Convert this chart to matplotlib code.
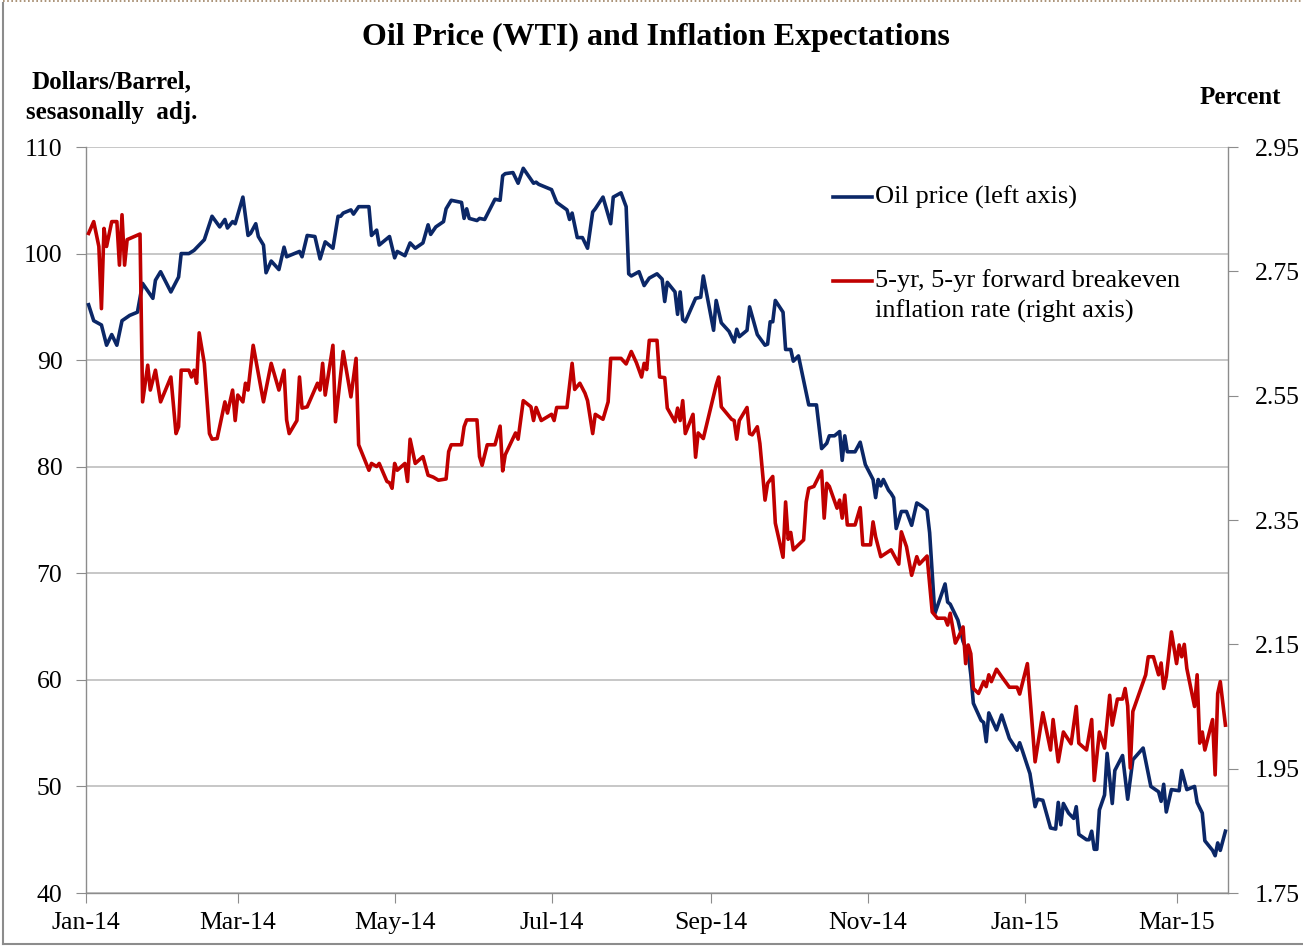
import numpy as np
import pandas as pd
import matplotlib
matplotlib.use("Agg")
import matplotlib.pyplot as plt
import matplotlib.dates as mdates
from matplotlib.lines import Line2D

# ---------------- data ----------------
start_date = "2014-01-01"

# WTI oil price, dollars/barrel; day = days since 2014-01-01
oil_day = [1, 3, 6, 8, 10, 12, 14, 17, 20, 22, 26, 27, 29, 33, 36, 37, 40, 42, 46, 49,
           52, 54, 55, 57, 58, 61, 63, 64, 66, 67, 69, 70, 72, 75, 77, 78, 83, 84, 86, 89,
           91, 93, 96, 98, 99, 100, 103, 104, 106, 110, 111, 113, 114, 118, 120, 121, 124, 126, 128, 131,
           133, 134, 136, 139, 140, 142, 146, 147, 148, 149, 152, 153, 155, 159, 161, 162, 163, 166, 168, 170,
           174, 175, 176, 178, 181, 183, 187, 188, 189, 191, 193, 195, 197, 198, 201, 204, 205, 208, 210, 211,
           212, 215, 217, 219, 222, 224, 225, 226, 229, 230, 231, 232, 233, 237, 239, 240, 244, 245, 247, 250,
           252, 253, 254, 257, 258, 261, 264, 265, 266, 267, 268, 271, 272, 274, 275, 277, 281, 284, 286, 288,
           289, 291, 293, 294, 295, 296, 299, 301, 303, 306, 307, 308, 309, 310, 312, 313, 314, 315, 317, 319,
           321, 323, 325, 327, 328, 330, 334, 335, 336, 339, 341, 343, 344, 345, 348, 349, 350, 351, 354, 356,
           359, 362, 363, 364, 367, 369, 370, 372, 375, 377, 378, 379, 380, 382, 384, 385, 386, 389, 390, 391,
           392, 393, 394, 396, 397, 399, 400, 403, 405, 407, 411, 414, 417, 418, 419, 420, 422, 425, 426, 428,
           431, 432, 434, 435, 438, 439, 440, 441, 443]
oil_price = [95.2, 93.7, 93.3, 91.4, 92.4, 91.4, 93.7, 94.2, 94.5, 97.2, 95.8, 97.5, 98.3, 96.4, 97.8, 100.0, 100.0, 100.3, 101.3, 103.5,
             102.5, 103.2, 102.4, 103.0, 102.8, 105.3, 101.7, 101.9, 102.8, 101.6, 100.8, 98.2, 99.3, 98.5, 100.6, 99.7, 100.2, 99.7, 101.7, 101.6,
             99.5, 101.1, 100.5, 103.5, 103.5, 103.8, 104.1, 103.7, 104.4, 104.4, 101.7, 102.2, 100.8, 101.6, 99.6, 100.2, 99.8, 101.0, 100.5, 101.0,
             102.7, 101.8, 102.5, 103.0, 104.2, 105.0, 104.8, 103.3, 104.2, 103.3, 103.1, 103.3, 103.2, 105.1, 105.0, 107.3, 107.5, 107.6, 106.6, 108.0,
             106.6, 106.7, 106.5, 106.3, 106.0, 104.8, 104.1, 103.2, 103.8, 101.5, 101.5, 100.5, 103.9, 104.2, 105.3, 102.8, 105.3, 105.7, 104.4, 98.1,
             97.9, 98.3, 97.0, 97.7, 98.1, 97.6, 95.5, 97.3, 96.4, 94.3, 96.4, 93.8, 93.6, 95.8, 95.9, 97.9, 92.8, 95.6, 93.5, 92.7,
             91.7, 92.9, 92.2, 92.8, 95.0, 92.4, 91.4, 91.5, 93.6, 93.6, 95.6, 94.5, 91.0, 91.0, 89.9, 90.4, 85.8, 85.8, 81.7, 82.2,
             82.9, 82.9, 83.3, 80.6, 82.9, 81.4, 81.4, 82.3, 80.2, 78.8, 77.1, 78.8, 78.2, 78.8, 77.8, 77.5, 77.1, 74.2, 75.8, 75.8,
             74.5, 76.6, 76.3, 75.9, 73.8, 66.2, 69.0, 67.3, 67.1, 65.6, 63.6, 62.5, 60.5, 57.8, 56.2, 56.0, 54.2, 56.9, 55.3, 56.7,
             54.5, 53.4, 54.1, 53.4, 51.2, 48.1, 48.8, 48.7, 46.1, 46.0, 48.5, 46.4, 48.4, 47.5, 47.0, 48.1, 45.5, 45.0, 45.0, 45.8,
             44.1, 44.1, 47.8, 49.2, 53.1, 48.4, 51.5, 52.9, 48.8, 52.5, 53.6, 50.0, 49.5, 48.6, 50.2, 47.6, 49.7, 49.6, 51.5, 49.7,
             50.0, 48.5, 47.5, 44.9, 44.0, 43.5, 44.7, 44.0, 45.8]

# 5-yr, 5-yr forward breakeven inflation rate, percent
bei_day = [1, 3, 5, 6, 7, 8, 10, 12, 13, 14, 15, 16, 21, 22, 24, 25, 27, 29, 33, 35,
           36, 37, 40, 41, 42, 43, 44, 46, 48, 49, 51, 54, 55, 57, 58, 59, 61, 62, 63, 65,
           69, 72, 75, 77, 78, 79, 82, 83, 84, 86, 90, 91, 92, 93, 96, 97, 100, 103, 105, 106,
           110, 111, 113, 114, 117, 118, 119, 120, 121, 124, 125, 126, 128, 131, 133, 135, 137, 140, 141, 142,
           146, 147, 148, 152, 153, 154, 156, 159, 161, 162, 163, 167, 168, 170, 173, 174, 175, 177, 181, 182,
           183, 187, 189, 190, 192, 194, 195, 197, 198, 201, 203, 204, 208, 210, 212, 214, 216, 217, 218, 219,
           222, 223, 225, 226, 229, 230, 231, 232, 233, 236, 237, 238, 240, 243, 245, 246, 247, 251, 252, 253,
           254, 257, 258, 259, 261, 262, 264, 265, 267, 268, 271, 272, 273, 274, 275, 277, 279, 280, 281, 283,
           286, 287, 288, 289, 292, 293, 294, 295, 296, 299, 301, 302, 305, 306, 307, 309, 313, 316, 317, 319,
           321, 323, 324, 327, 329, 331, 334, 335, 336, 338, 339, 341, 342, 343, 344, 345, 347, 349, 350, 351,
           352, 354, 356, 359, 362, 363, 366, 369, 372, 375, 376, 378, 380, 383, 385, 386, 389, 391, 392, 394,
           396, 398, 399, 401, 403, 404, 405, 406, 407, 412, 413, 415, 417, 418, 419, 420, 422, 424, 425, 426,
           427, 428, 431, 432, 433, 434, 435, 438, 439, 440, 441, 443]
bei_rate = [2.811, 2.830, 2.790, 2.690, 2.819, 2.790, 2.830, 2.830, 2.760, 2.841, 2.760, 2.801, 2.810, 2.540, 2.599, 2.559, 2.591, 2.540, 2.580, 2.489,
            2.500, 2.591, 2.591, 2.580, 2.591, 2.570, 2.651, 2.602, 2.489, 2.480, 2.481, 2.540, 2.522, 2.559, 2.510, 2.551, 2.540, 2.570, 2.559, 2.631,
            2.540, 2.602, 2.559, 2.591, 2.511, 2.489, 2.510, 2.580, 2.530, 2.532, 2.570, 2.559, 2.602, 2.551, 2.631, 2.508, 2.621, 2.548, 2.610, 2.471,
            2.430, 2.441, 2.436, 2.441, 2.412, 2.410, 2.401, 2.441, 2.430, 2.441, 2.412, 2.480, 2.441, 2.452, 2.422, 2.419, 2.414, 2.416, 2.460, 2.471,
            2.471, 2.500, 2.511, 2.511, 2.452, 2.438, 2.471, 2.471, 2.501, 2.429, 2.455, 2.490, 2.480, 2.542, 2.532, 2.510, 2.531, 2.510, 2.520, 2.510,
            2.531, 2.531, 2.602, 2.560, 2.570, 2.554, 2.542, 2.489, 2.520, 2.512, 2.540, 2.610, 2.610, 2.601, 2.621, 2.603, 2.580, 2.602, 2.592, 2.639,
            2.639, 2.580, 2.579, 2.530, 2.508, 2.530, 2.510, 2.542, 2.489, 2.520, 2.451, 2.490, 2.481, 2.533, 2.567, 2.580, 2.532, 2.512, 2.510, 2.480,
            2.510, 2.531, 2.489, 2.487, 2.500, 2.473, 2.382, 2.409, 2.420, 2.345, 2.290, 2.379, 2.319, 2.330, 2.302, 2.310, 2.318, 2.379, 2.401, 2.404,
            2.429, 2.353, 2.409, 2.404, 2.369, 2.382, 2.353, 2.390, 2.342, 2.342, 2.370, 2.310, 2.310, 2.347, 2.323, 2.291, 2.302, 2.279, 2.331, 2.307,
            2.261, 2.291, 2.279, 2.292, 2.202, 2.192, 2.192, 2.181, 2.200, 2.152, 2.160, 2.178, 2.119, 2.149, 2.135, 2.079, 2.071, 2.090, 2.082, 2.101,
            2.090, 2.110, 2.098, 2.081, 2.081, 2.070, 2.119, 1.961, 2.040, 1.980, 2.029, 1.961, 2.009, 1.990, 2.050, 1.991, 1.980, 2.029, 1.931, 2.009,
            1.983, 2.068, 2.020, 2.062, 2.062, 2.079, 2.051, 1.951, 2.042, 2.101, 2.130, 2.130, 2.101, 2.120, 2.079, 2.098, 2.170, 2.119, 2.149, 2.130,
            2.150, 2.111, 2.050, 2.101, 1.991, 2.009, 1.980, 2.029, 1.940, 2.071, 2.090, 2.020]

x_tick_labels = ["Jan-14", "Mar-14", "May-14", "Jul-14", "Sep-14", "Nov-14", "Jan-15", "Mar-15"]
x_tick_dates = ["2014-01-01", "2014-03-01", "2014-05-01", "2014-07-01",
                "2014-09-01", "2014-11-01", "2015-01-01", "2015-03-01"]
left_ticks = [40, 50, 60, 70, 80, 90, 100, 110]
right_ticks = [1.75, 1.95, 2.15, 2.35, 2.55, 2.75, 2.95]

title = "Oil Price (WTI) and Inflation Expectations"
left_label = "Dollars/Barrel,\nsesasonally  adj."
right_label = "Percent"
oil_legend = "Oil price (left axis)"
bei_legend = "5-yr, 5-yr forward breakeven\ninflation rate (right axis)"

# ---------------- styling ----------------
plt.rcParams["font.family"] = ["Liberation Serif", "DejaVu Serif"]
BLUE = "#0B2767"
RED = "#C00000"
GRID = "#BDBDBD"
AXC = "#8C8C8C"
LW = 2.6

W, H = 1303, 946
fig = plt.figure(figsize=(W / 100, H / 100), dpi=100)
L, R, T, B = 86, 1228, 147, 893
ax = fig.add_axes([L / W, 1 - B / H, (R - L) / W, (B - T) / H])
ax2 = ax.twinx()

t0 = pd.Timestamp(start_date)
oil_dates = t0 + pd.to_timedelta(oil_day, unit="D")
bei_dates = t0 + pd.to_timedelta(bei_day, unit="D")

ax.plot(oil_dates, oil_price, color=BLUE, lw=LW, solid_joinstyle="round", zorder=3)
ax2.plot(bei_dates, bei_rate, color=RED, lw=LW, solid_joinstyle="round", zorder=3)

ax.set_xlim(pd.Timestamp("2014-01-01"), pd.Timestamp("2015-03-21"))
ax.set_ylim(40, 110)
ax2.set_ylim(1.75, 2.95)
ax.set_yticks(left_ticks)
ax.set_yticklabels([str(v) for v in left_ticks])
ax2.set_yticks(right_ticks)
ax2.set_yticklabels([f"{v:.2f}" for v in right_ticks])
ax.set_xticks(pd.to_datetime(x_tick_dates))
ax.set_xticklabels(x_tick_labels)

ax.yaxis.grid(True, color=GRID, lw=1.2, zorder=0)
ax.set_axisbelow(True)
ax2.set_zorder(ax.get_zorder() + 1)
ax2.patch.set_visible(False)

for a in (ax, ax2):
    a.spines["top"].set_visible(False)
    for s in ("left", "right", "bottom"):
        a.spines[s].set_color(AXC)
        a.spines[s].set_linewidth(1.0)
ax.spines["right"].set_visible(False)
ax2.spines["left"].set_visible(False)
ax2.spines["bottom"].set_visible(False)

ax.tick_params(axis="y", direction="out", length=7, color=AXC, labelsize=18.5, pad=10)
ax.tick_params(axis="x", direction="out", length=7, color=AXC, labelsize=18.5, pad=7)
ax2.tick_params(axis="y", direction="out", length=7, color=AXC, labelsize=18.5, pad=12)

# title and axis labels
fig.text(656 / W, 1 - 37 / H, title, ha="center", va="center", fontsize=23, fontweight="bold")
fig.text(112 / W, 1 - 97 / H, left_label, ha="center", va="center", fontsize=18, fontweight="bold",
         linespacing=1.45)
fig.text(1240 / W, 1 - 97 / H, right_label, ha="center", va="center", fontsize=18, fontweight="bold")

# legend (drawn as figure artists)
fig.add_artist(Line2D([833 / W, 872 / W], [1 - 197 / H, 1 - 197 / H], color=BLUE, lw=LW))
fig.text(875 / W, 1 - 197 / H, oil_legend, ha="left", va="center", fontsize=19)
fig.add_artist(Line2D([833 / W, 872 / W], [1 - 281 / H, 1 - 281 / H], color=RED, lw=LW))
fig.text(875 / W, 1 - 296 / H, bei_legend, ha="left", va="center", fontsize=19, linespacing=1.4)

# outer frame of the chart area
fig.add_artist(Line2D([3 / W, 3 / W], [0.002, 1 - 3 / H], color="#8C8C8C", lw=1.5))
fig.add_artist(Line2D([3 / W, 1.0], [1 - 944 / H, 1 - 944 / H], color="#8C8C8C", lw=1.5))
fig.add_artist(Line2D([3 / W, 1.0], [1 - 1.5 / H, 1 - 1.5 / H], color="#9C8060", lw=1.2, ls=(0, (1, 1.5))))

fig.savefig("out.png", dpi=100)
